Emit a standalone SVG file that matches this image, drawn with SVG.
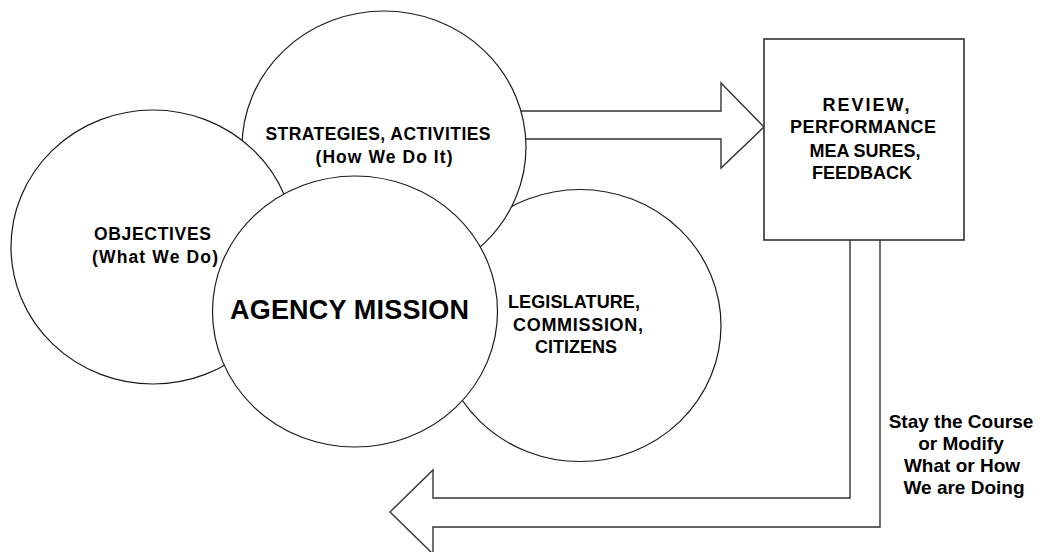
<svg xmlns="http://www.w3.org/2000/svg" width="1040" height="552" viewBox="0 0 1040 552">
  <style>
    .bubble { fill: #ffffff; stroke: #1a1a1a; stroke-width: 1.2; }
    .box { fill: #ffffff; stroke: #333333; stroke-width: 1.6; }
    .flow { fill: none; stroke: #333333; stroke-width: 1.4; stroke-linejoin: miter; }
    text { font-family: "Liberation Sans", Arial, sans-serif; font-weight: bold; fill: #000000; text-anchor: middle; }
    .t17 { font-size: 17.5px; }
    .t18 { font-size: 18px; }
    .t19 { font-size: 19px; }
    .big { font-size: 27px; }
  </style>

  <rect width="1040" height="552" fill="#ffffff"/>

  <!-- Block arrows: forward to the review box, and the feedback loop back -->
  <g id="connectors">
    <path class="flow" d="M521,111 H721 V83 L764,127 L721,168 V139 H526"/>
    <path class="flow" d="M850,240 V498 H433 V470 L390,512 L433,554 V527 H880 V240"/>
  </g>

  <!-- Overlapping bubbles, back to front -->
  <g id="legislature">
    <ellipse class="bubble" cx="580" cy="325.5" rx="141" ry="136"/>
    <text class="t18" x="574" y="308" textLength="132" lengthAdjust="spacing">LEGISLATURE,</text>
    <text class="t18" x="578" y="331" textLength="130" lengthAdjust="spacing">COMMISSION,</text>
    <text class="t18" x="576" y="353" textLength="82" lengthAdjust="spacing">CITIZENS</text>
  </g>

  <g id="strategies">
    <ellipse class="bubble" cx="384" cy="147" rx="142" ry="136"/>
    <text class="t17" x="378" y="140" textLength="225" lengthAdjust="spacing">STRATEGIES, ACTIVITIES</text>
    <text class="t17" x="384" y="163" textLength="137" lengthAdjust="spacing">(How We Do It)</text>
  </g>

  <g id="objectives">
    <ellipse class="bubble" cx="153" cy="247" rx="142" ry="137"/>
    <text class="t17" x="152.5" y="240" textLength="117" lengthAdjust="spacing">OBJECTIVES</text>
    <text class="t17" x="155" y="263" textLength="126" lengthAdjust="spacing">(What We Do)</text>
  </g>

  <g id="agency-mission">
    <ellipse class="bubble" cx="355" cy="311.5" rx="142.5" ry="135.5"/>
    <text class="big" x="349.5" y="319" textLength="239" lengthAdjust="spacing">AGENCY MISSION</text>
  </g>

  <g id="review">
    <rect class="box" x="764" y="39" width="200" height="201"/>
    <text class="t18" x="866" y="111" textLength="87" lengthAdjust="spacing">REVIEW,</text>
    <text class="t18" x="863" y="133" textLength="146" lengthAdjust="spacing">PERFORMANCE</text>
    <text class="t18" x="865" y="157">MEA<tspan dx="4">SURES,</tspan></text>
    <text class="t18" x="862" y="179" textLength="100" lengthAdjust="spacing">FEEDBACK</text>
  </g>

  <g id="loop-label">
    <text class="t19" x="961" y="428">Stay the Course</text>
    <text class="t19" x="961" y="450">or Modify</text>
    <text class="t19" x="962" y="472">What or How</text>
    <text class="t19" x="964" y="494">We are Doing</text>
  </g>
</svg>
